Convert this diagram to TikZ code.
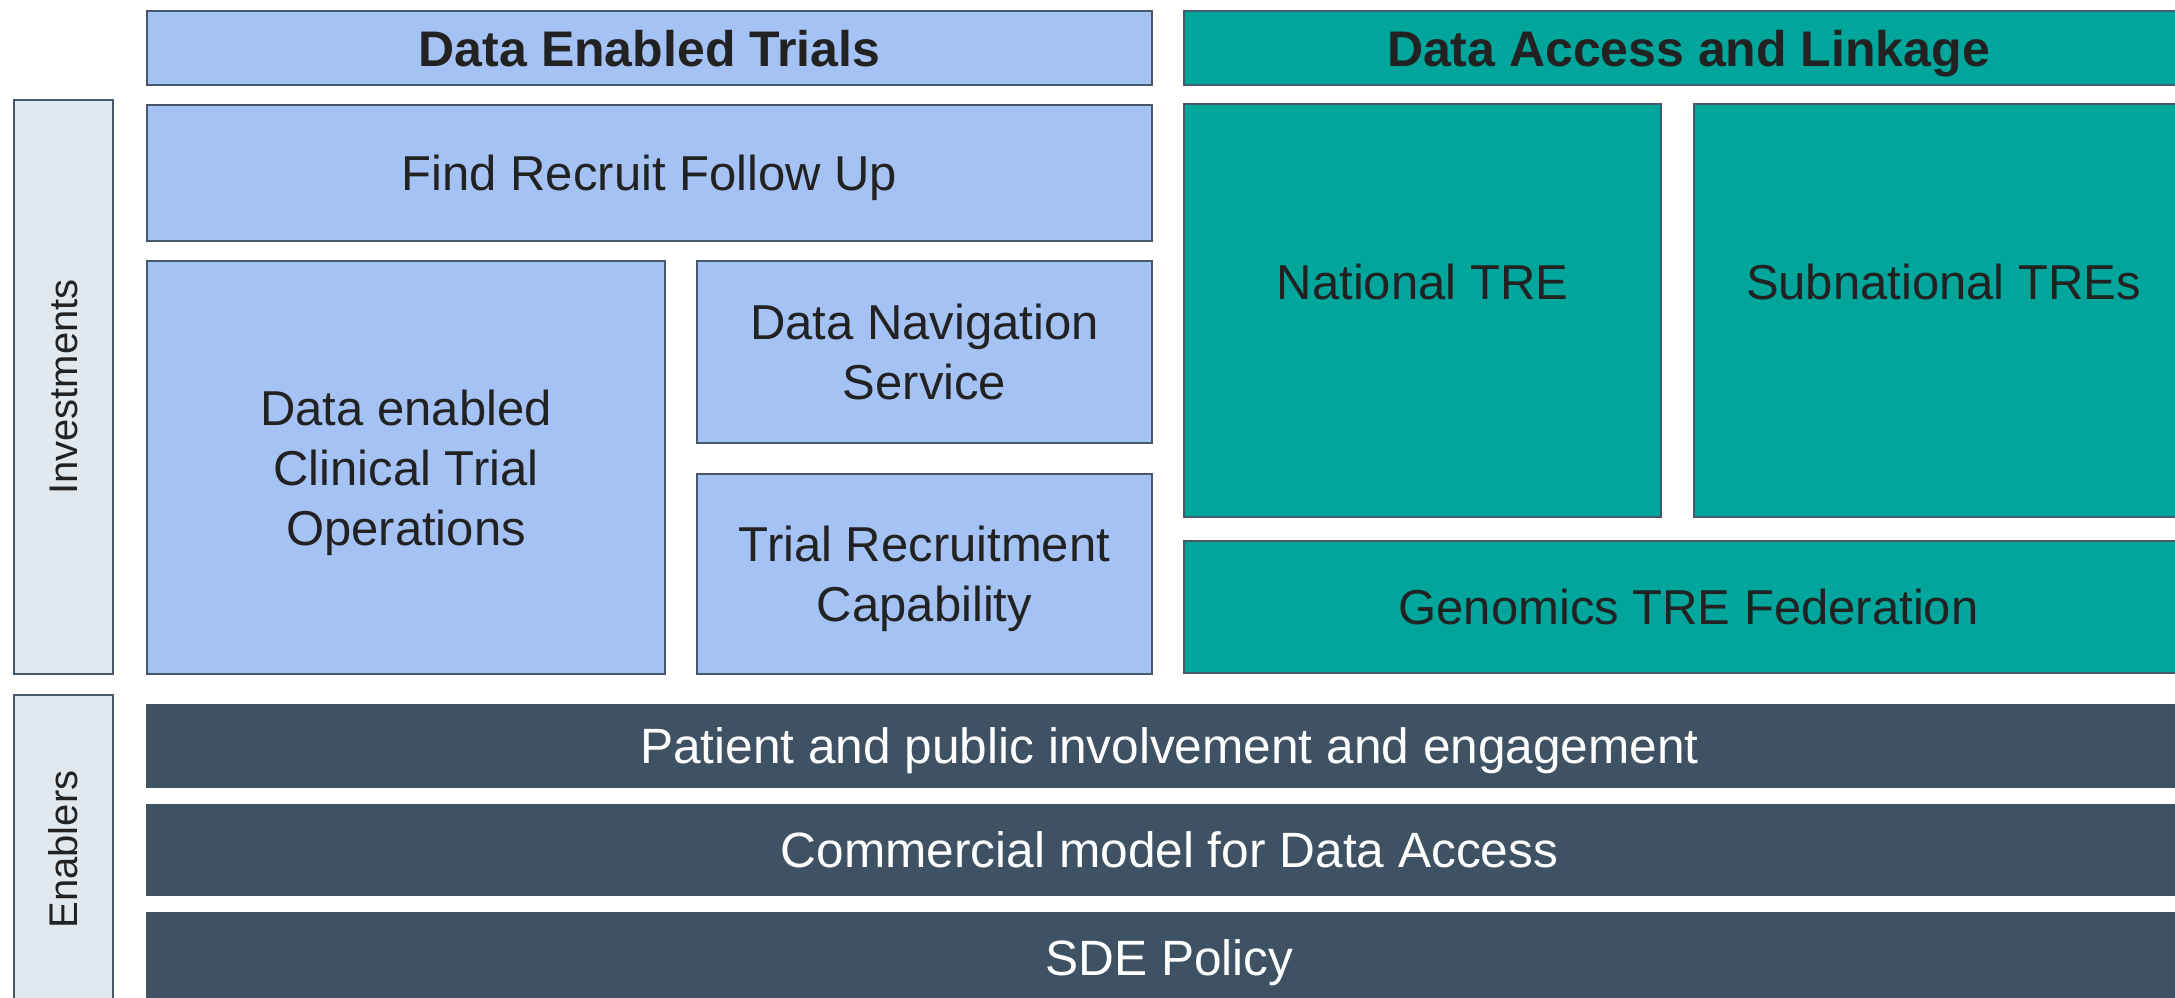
\documentclass[tikz,border=0pt]{standalone}
\usepackage{fontspec}
\setmainfont{Liberation Sans}
\usetikzlibrary{positioning}
\definecolor{detblue}{HTML}{A4C2F4}
\definecolor{dalteal}{HTML}{00A59B}
\definecolor{enabslate}{HTML}{3F5263}
\definecolor{sidegrey}{HTML}{E2E9EE}
\definecolor{edgegrey}{HTML}{46586A}
\definecolor{txtgrey}{HTML}{222222}
\tikzset{%
	box/.style={draw=edgegrey, line width=1pt, rectangle, anchor=north west, text depth=0pt,%
		inner sep=0mm, align=center, text=txtgrey, font=\fontsize{24.5}{30}\selectfont},
	det/.style={box, fill=detblue},
	dal/.style={box, fill=dalteal},
	hdr/.style={font=\fontsize{25}{30}\selectfont\bfseries},
	enab/.style={box, draw=none, fill=enabslate, text=white, font=\fontsize{24.8}{30}\selectfont},
	side/.style={box, fill=sidegrey},
	sidetext/.style={rotate=90, text=txtgrey, font=\fontsize{20}{24}\selectfont},
	txt/.style={text=txtgrey, font=\fontsize{24.5}{30}\selectfont}
}
\begin{document}
\begin{tikzpicture}[x=0.5pt, y=-0.5pt]
	\clip (0,0) rectangle (2175,997);

	% side labels
	\node[side, minimum width=49.5pt, minimum height=287pt] (inv) at (13,99) {};
	\node[sidetext] (inv-t) at (inv.center) {Investments};
	\node[side, minimum width=49.5pt, minimum height=154.5pt] (ena) at (13,694) {};
	\node[sidetext] (ena-t) at (ena.center) {Enablers};

	% data enabled trials
	\node[det, hdr, minimum width=502.5pt, minimum height=37pt] (det) at (146,10) {Data Enabled Trials};
	\node[det, minimum width=502.5pt, minimum height=68pt] (frfu) at (146,104) {Find Recruit Follow Up};
	\node[det, minimum width=259pt, minimum height=206.5pt] (decto) at (146,260) {Data enabled\\Clinical Trial\\Operations};
	\node[det, minimum width=227.5pt, minimum height=91pt] (dns) at (696,260) {Data Navigation\\Service};
	\node[det, minimum width=227.5pt, minimum height=100pt] (trc) at (696,473) {Trial Recruitment\\Capability};

	% data access and linkage
	\node[dal, hdr, minimum width=504.5pt, minimum height=37pt] (dal) at (1183,10) {Data Access and Linkage};
	\node[dal, minimum width=238.5pt, minimum height=206.5pt] (ntre) at (1183,103) {};
	\node[txt, yshift=-89.5pt] (ntre-t) at (ntre.north) {National TRE};
	\node[dal, minimum width=249.5pt, minimum height=206.5pt] (sntre) at (1693,103) {};
	\node[txt, yshift=-89.5pt] (sntre-t) at (sntre.north) {Subnational TREs};
	\node[dal, minimum width=504.5pt, minimum height=66pt] (gtre) at (1183,540) {Genomics TRE Federation};

	% enablers
	\node[enab, minimum width=1023.5pt, minimum height=42pt] (ppie) at (145,703) {Patient and public involvement and engagement};
	\node[enab, minimum width=1023.5pt, minimum height=46pt] (cmda) at (145,803) {Commercial model for Data Access};
	\node[enab, minimum width=1023.5pt, minimum height=46pt] (sde) at (145,911) {SDE Policy};
\end{tikzpicture}
\end{document}
